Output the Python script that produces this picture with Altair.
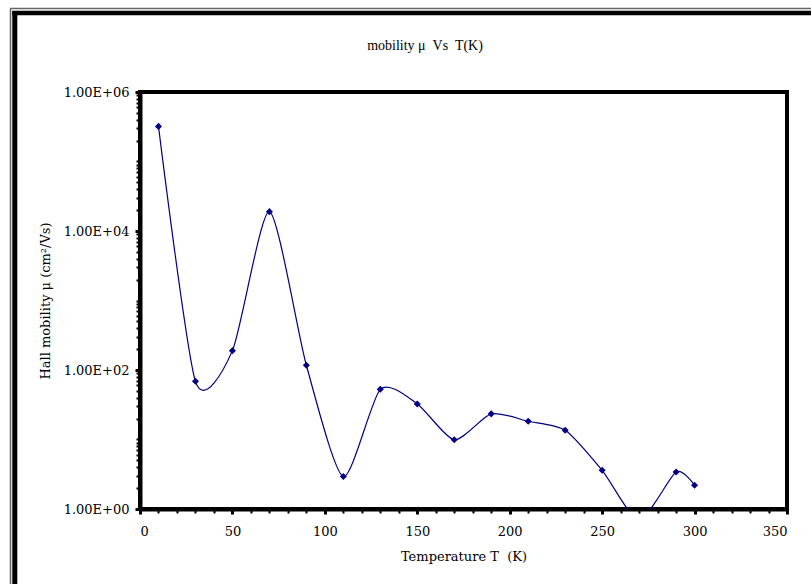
import altair as alt
import pandas as pd

# ---- data ----
temps = [10, 30, 50, 70, 90, 110, 130, 150, 170, 190, 210, 230, 250, 270, 290, 300]
mobility = [3.2e5, 68.7, 190, 1.9e4, 117, 2.93, 52.7, 32.5, 9.9, 23.4, 18.3, 13.6, 3.6, 0.7, 3.4, 2.2]

x_major = [0, 50, 100, 150, 200, 250, 300, 350]
x_minor = [v for v in range(0, 351, 10) if v % 50]
y_major = [1, 1e2, 1e4, 1e6]
y_minor = [m * 10 ** k for k in range(6) for m in range(2, 11)]

title_text = "mobility \u03bc\u00a0 Vs\u00a0 T(K)"
x_title = "Temperature T\u00a0 (K)"
y_title = "Hall mobility \u03bc (cm\u00b2/Vs)"

df = pd.DataFrame({"T": temps, "mu": mobility})

NAVY = "#000080"
FONT = "DejaVu Serif"

xscale = alt.Scale(domain=[0, 350], nice=False, zero=False)
yscale = alt.Scale(type="log", domain=[1, 1e6], nice=False)

line = alt.Chart(df).mark_line(
    interpolate="cardinal", tension=0.3, color=NAVY, strokeWidth=1.2, clip=True
).encode(
    x=alt.X("T:Q", scale=xscale, axis=alt.Axis(
        orient="bottom", values=x_major, title=x_title, grid=False,
        domainColor="black", domainWidth=4, tickColor="black", tickWidth=3, tickSize=5,
        labelFont=FONT, labelFontSize=13, labelColor="black", labelPadding=11,
        titleFont=FONT, titleFontSize=13, titleFontWeight="normal", titleColor="black",
        titlePadding=12)),
    y=alt.Y("mu:Q", scale=yscale, axis=alt.Axis(
        orient="left", values=y_major, title=y_title, grid=False,
        labelExpr="'1.00E+0' + format(log(datum.value)/LN10, '.0f')",
        domainColor="black", domainWidth=4, tickColor="black", tickWidth=3, tickSize=5,
        labelFont=FONT, labelFontSize=13, labelColor="black", labelPadding=6,
        titleFont=FONT, titleFontSize=13, titleFontWeight="normal", titleColor="black",
        titlePadding=11)),
)

points = alt.Chart(df).mark_point(
    shape="diamond", filled=True, size=50, color=NAVY, opacity=1, clip=True
).encode(
    x=alt.X("T:Q", scale=xscale, axis=alt.Axis(
        orient="bottom", values=x_minor, labels=False, title=None, domain=False,
        grid=False, tickColor="black", tickWidth=2, tickSize=4)),
    y=alt.Y("mu:Q", scale=yscale, axis=alt.Axis(
        orient="left", values=y_minor, labels=False, title=None, domain=False,
        grid=False, tickColor="black", tickWidth=2, tickSize=4)),
)

one = alt.Data(values=[{}])

title_mark = alt.Chart(one).mark_text(
    text=title_text, font="Liberation Serif", fontSize=14, color="black",
    align="center", baseline="middle"
).encode(x=alt.value(285), y=alt.value(-46))

frame_left_thin = alt.Chart(one).mark_rule(color="#666666", strokeWidth=1.5).encode(
    x=alt.value(-129.5), y=alt.value(-83.5), y2=alt.value(500))
frame_left_thick = alt.Chart(one).mark_rule(color="black", strokeWidth=5).encode(
    x=alt.value(-125.2), y=alt.value(-81), y2=alt.value(500))
frame_top_thin = alt.Chart(one).mark_rule(color="#666666", strokeWidth=1.5).encode(
    x=alt.value(-130), x2=alt.value(680), y=alt.value(-83.5))
frame_top_thick = alt.Chart(one).mark_rule(color="black", strokeWidth=4.5).encode(
    x=alt.value(-127.7), x2=alt.value(680), y=alt.value(-79))

chart = alt.layer(
    line, points, title_mark,
    frame_left_thin, frame_left_thick, frame_top_thin, frame_top_thick
).resolve_axis(x="independent", y="independent").resolve_scale(
    x="shared", y="shared"
).properties(
    width=647, height=417,
    autosize=alt.AutoSizeParams(type="none"),
    padding={"left": 140, "top": 92, "right": 24, "bottom": 75},
    background="white",
).configure_view(stroke="black", strokeWidth=4)

chart.save("out.html", embed_options={"renderer": "svg", "actions": False})
